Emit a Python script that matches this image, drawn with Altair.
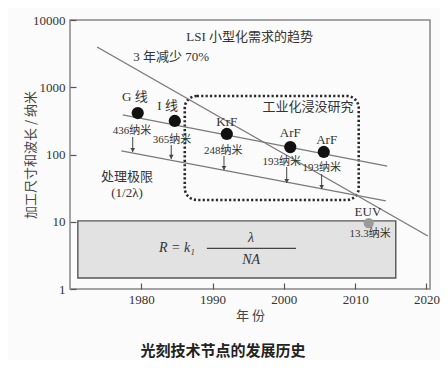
import altair as alt
import pandas as pd

# ---- axis ticks ----
x_ticks = [1980, 1990, 2000, 2010, 2020]
y_ticks = [1, 10, 100, 1000, 10000]

# ---- lithography nodes ----
node_year = [1979.5, 1984.7, 1992.0, 2000.9, 2005.6]
node_size = [414, 315, 202, 129, 109]
node_name = ["G 线", "I 线", "KrF", "ArF", "ArF"]
name_year = [1979.1, 1983.7, 1992.0, 2000.9, 2006.0]
name_val = [716, 526, 304, 209, 164]
wave_text = ["436纳米", "365纳米", "248纳米", "193纳米", "193纳米"]
wave_year = [1978.7, 1984.3, 1991.5, 1999.7, 2005.3]
wave_val = [224, 164, 113, 77, 63]

# ---- arrows down to the processing limit (1/2 lambda) ----
arrow_year = [1978.8, 1984.2, 1991.6, 2000.4, 2005.3]
arrow_top = [182, 138, 95, 65, 51]
arrow_tip = [109, 86, 59, 37.7, 30.6]

# ---- EUV ----
euv_year = [2011.9]
euv_size = [9.58]
euv_name = ["EUV"]
euv_name_year = [2011.8]
euv_name_val = [14.0]
euv_wave = ["13.3纳米"]
euv_wave_year = [2012.1]
euv_wave_val = [6.57]

# ---- straight lines ----
trend_year = [1973.8, 2020.2]
trend_val = [3970, 6.14]
node_line_year = [1977.4, 2014.5]
node_line_val = [387, 67.4]
limit_year = [1977.2, 2014.3]
limit_val = [113, 20.4]

# ---- boxes ----
immersion_box_year = [1986.1, 2010.5]
immersion_box_val = [741, 21.1]
formula_box_year = [1971.1, 2015.7]
formula_box_val = [10.3, 1.46]

# ---- text annotations ----
note_text = ["LSI 小型化需求的趋势", "3 年减少 70%", "工业化浸没研究", "处理极限", "(1/2λ)"]
note_year = [1995.2, 1984.2, 2003.4, 1978.0, 1978.0]
note_val = [5590, 2818, 509, 46.3, 26.8]

formula_text = ["R = k₁", "λ", "NA"]
formula_year = [1985.0, 1995.4, 1995.4]
formula_val = [4.07, 5.73, 2.70]
fraction_year = [1989.2, 2001.7]
fraction_val = [4.03]

FONT = "Liberation Serif, Noto Sans CJK SC"
CJK = "Noto Sans CJK SC"
TXT = "#333333"

xs = alt.Scale(domain=[1970, 2020.5], nice=False, zero=False)
ys = alt.Scale(type="log", domain=[1, 10000], nice=False)

xaxis = alt.Axis(values=x_ticks, format="d", title="年 份", domain=False, grid=False,
                 offset=-6, tickSize=6, tickColor="#555555", tickWidth=1.2,
                 labelPadding=4, labelFont="Liberation Serif", labelFontSize=13,
                 labelColor=TXT, titleFont=CJK, titleFontSize=13,
                 titleFontWeight="normal", titleColor="#444444", titlePadding=3)
yaxis = alt.Axis(values=y_ticks, format="d", title="加工尺寸和波长 / 纳米", domain=False,
                 grid=False, offset=-6, tickSize=6, tickColor="#555555", tickWidth=1.2,
                 labelPadding=5, labelFont="Liberation Serif", labelFontSize=13,
                 labelColor=TXT, titleFont=CJK, titleFontSize=13,
                 titleFontWeight="normal", titleColor="#444444", titlePadding=-5)

X = alt.X("x:Q", scale=xs, axis=xaxis)
Y = alt.Y("y:Q", scale=ys, axis=yaxis)

# data frames
box_df = pd.DataFrame({"x": [formula_box_year[0]], "x2": [formula_box_year[1]],
                       "y": [formula_box_val[0]], "y2": [formula_box_val[1]]})
imm_df = pd.DataFrame({"x": [immersion_box_year[0]], "x2": [immersion_box_year[1]],
                       "y": [immersion_box_val[0]], "y2": [immersion_box_val[1]]})
lines_df = pd.DataFrame({
    "x": trend_year + node_line_year + limit_year,
    "y": trend_val + node_line_val + limit_val,
    "s": ["trend"] * 2 + ["node"] * 2 + ["limit"] * 2,
})
arrow_df = pd.DataFrame({"x": arrow_year, "y": arrow_top, "y2": arrow_tip})
tip_df = pd.DataFrame({"x": arrow_year, "y": arrow_tip})
node_df = pd.DataFrame({"x": node_year, "y": node_size})
euv_df = pd.DataFrame({"x": euv_year, "y": euv_size})
name_df = pd.DataFrame({"x": name_year + euv_name_year, "y": name_val + euv_name_val,
                        "t": node_name + euv_name})
wave_df = pd.DataFrame({"x": wave_year + euv_wave_year, "y": wave_val + euv_wave_val,
                        "t": wave_text + euv_wave})
note_df = pd.DataFrame({"x": note_year, "y": note_val, "t": note_text})
formula_df = pd.DataFrame({"x": formula_year, "y": formula_val, "t": formula_text})
frac_df = pd.DataFrame({"x": [fraction_year[0]], "x2": [fraction_year[1]], "y": fraction_val})

formula_box = alt.Chart(box_df).mark_rect(fill="#e2e2e2", stroke="#555555", strokeWidth=1.4).encode(
    x=X, x2="x2:Q", y=Y, y2="y2:Q")
immersion_box = alt.Chart(imm_df).mark_rect(
    fillOpacity=0, stroke="#2a2a2a", strokeWidth=2.6, strokeDash=[2.2, 2.2],
    cornerRadius=12, strokeCap="butt").encode(x=X, x2="x2:Q", y=Y, y2="y2:Q")
lines = alt.Chart(lines_df).mark_line(color="#7a7a7a", strokeWidth=1.3).encode(
    x=X, y=Y, detail="s:N")
arrows = alt.Chart(arrow_df).mark_rule(color="#444444", strokeWidth=1).encode(
    x=X, y=Y, y2="y2:Q")
tips = alt.Chart(tip_df).mark_point(shape="triangle-down", filled=True, size=22,
                                    color="#444444", opacity=1, yOffset=-2).encode(x=X, y=Y)
nodes = alt.Chart(node_df).mark_circle(size=150, color="#111111", opacity=1).encode(x=X, y=Y)
euv = alt.Chart(euv_df).mark_circle(size=105, color="#9a9a9a", opacity=1).encode(x=X, y=Y)
names = alt.Chart(name_df).mark_text(font=FONT, fontSize=13, color=TXT).encode(
    x=X, y=Y, text="t:N")
waves = alt.Chart(wave_df).mark_text(font=FONT, fontSize=11, color=TXT).encode(
    x=X, y=Y, text="t:N")
notes = alt.Chart(note_df).mark_text(font=FONT, fontSize=13, color=TXT).encode(
    x=X, y=Y, text="t:N")
formula = alt.Chart(formula_df).mark_text(font=FONT, fontSize=14, fontStyle="italic",
                                          color=TXT).encode(x=X, y=Y, text="t:N")
fraction = alt.Chart(frac_df).mark_rule(color="#444444", strokeWidth=1.2).encode(
    x=X, x2="x2:Q", y=Y)

chart = alt.layer(
    formula_box, immersion_box, lines, arrows, tips, nodes, euv,
    names, waves, notes, formula, fraction
).properties(
    width=360, height=269,
    autosize=alt.AutoSizeParams(type="none"),
    padding={"left": 62, "top": 12, "right": 10, "bottom": 71},
    title=alt.TitleParams("光刻技术节点的发展历史", orient="bottom", anchor="middle",
                          fontSize=15, font=CJK, fontWeight="bold", color="#222222",
                          offset=22, dx=-27),
    background="#fbfbfb",
).configure_view(stroke="#888888", strokeWidth=1.5)

chart.save("out.html", embed_options={"renderer": "svg", "actions": False})
